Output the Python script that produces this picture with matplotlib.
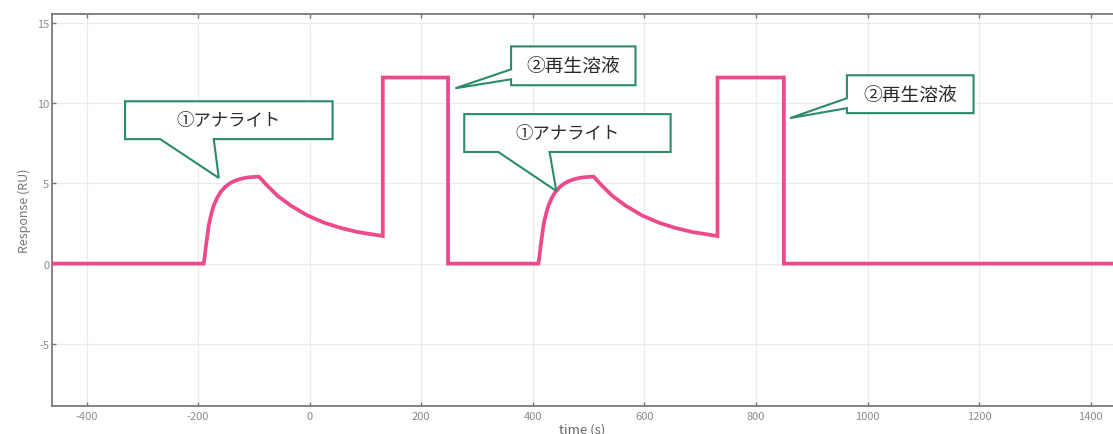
import matplotlib.pyplot as plt
from matplotlib.patches import Polygon

plt.rcParams['font.family'] = ['Noto Sans CJK JP', 'DejaVu Sans']
plt.rcParams['axes.unicode_minus'] = False

# sensorgram: two cycles of analyte injection + regeneration
time_s = [-462, -190, -188, -186, -184, -181, -178, -175, -172, -166, -160, -151, -142, -133,
          -124, -115, -106, -98, -91,
          -76, -58, -34, -4, 26, 56, 86, 131, 131, 248, 248,
          410, 412, 414, 416, 419, 422, 425, 428, 434, 440, 449, 458, 467,
          476, 485, 494, 502, 509,
          524, 542, 566, 596, 626, 656, 686, 731, 731, 850, 850, 1445]
response_ru = [0, 0, 0.5, 1.1, 1.6, 2.38, 2.85, 3.28, 3.62, 4.1, 4.45, 4.8, 5.03, 5.18,
               5.28, 5.35, 5.39, 5.41, 5.42,
               4.86, 4.24, 3.62, 3.0, 2.55, 2.22, 1.97, 1.72, 11.6, 11.6, 0,
               0, 0.5, 1.1, 1.6, 2.38, 2.85, 3.28, 3.62, 4.1, 4.45, 4.8, 5.03, 5.18,
               5.28, 5.35, 5.39, 5.41, 5.42,
               4.86, 4.24, 3.62, 3.0, 2.55, 2.22, 1.97, 1.72, 11.6, 11.6, 0, 0]

x_ticks = [-400, -200, 0, 200, 400, 600, 800, 1000, 1200, 1400]
y_ticks = [-5, 0, 5, 10, 15]

# callouts: (label, font size, box left/right/bottom/top, pointer side, pointer points)
callouts = [
    ('①アナライト', 12.5, (-331, 41, 7.76, 10.12), 'bottom', [(-172, 7.76), (-163, 5.34), (-268, 7.76)]),
    ('②再生溶液', 13.5, (361, 584, 11.12, 13.54), 'left', [(361, 11.49), (261, 10.93), (361, 12.11)]),
    ('①アナライト', 12.5, (277, 647, 6.96, 9.32), 'bottom', [(430, 6.96), (442, 4.53), (338, 6.96)]),
    ('②再生溶液', 13.5, (963, 1190, 9.38, 11.74), 'left', [(963, 9.69), (861, 9.07), (963, 10.31)]),
]

fig = plt.figure(figsize=(11.13, 4.35), dpi=100)
ax = fig.add_axes([0.0467, 0.0644, 0.9533, 0.9011])

ax.plot(time_s, response_ru, color='#ec4a8b', lw=2.7, solid_joinstyle='miter', zorder=3)

for label, fs, (l, r, b, t), side, ptr in callouts:
    if side == 'bottom':
        pts = [(l, t), (r, t), (r, b)] + ptr + [(l, b)]
    else:
        pts = [(l, t), (r, t), (r, b), (l, b)] + ptr
    ax.add_patch(Polygon(pts, closed=True, facecolor='white', edgecolor='#2b8a6b',
                         lw=1.5, zorder=4))
    ax.text((l + r) / 2, (b + t) / 2, label, ha='center', va='center',
            fontsize=fs, color='#2a2a2a', zorder=5)

ax.set_xlim(-462, 1440)
ax.set_ylim(-8.875, 15.56)
ax.set_xticks(x_ticks)
ax.set_yticks(y_ticks)
ax.grid(True, color='#ebebeb', lw=0.9)
ax.set_axisbelow(True)
ax.tick_params(direction='in', length=3, width=1, color='#777777',
               labelcolor='#8a8a8a', labelsize=8, top=True)
ax.tick_params(axis='y', pad=2)
for side in ['left', 'bottom', 'top']:
    ax.spines[side].set_color('#7a7a7a')
    ax.spines[side].set_linewidth(1.3)
ax.spines['right'].set_visible(False)

ax.set_xlabel('time (s)', fontsize=9.5, color='#666666', labelpad=1)
ax.set_ylabel('Response (RU)', fontsize=9, color='#777777', labelpad=4)

fig.savefig('out.png', dpi=100)
